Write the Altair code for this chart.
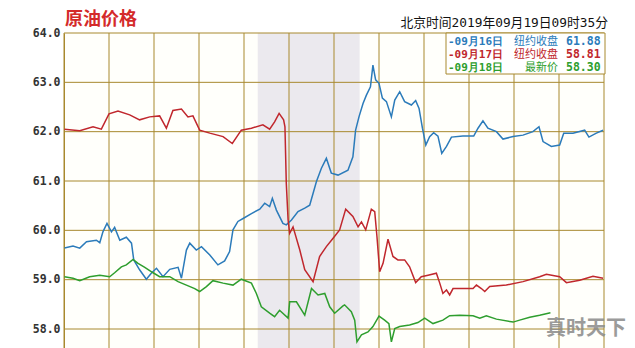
import altair as alt
import pandas as pd

# ---- data (x in hours across the 24h window) ----
red_h = [0.02, 0.70, 1.29, 1.66, 2.00, 2.40, 2.92, 3.36, 3.81, 4.25, 4.55, 4.84, 5.22, 5.51, 5.73,
         6.03, 6.48, 7.07, 7.48, 7.88, 8.33, 8.84, 9.14, 9.36, 9.56, 9.76, 9.82, 9.88, 9.96, 10.03,
         10.18, 10.48, 10.70, 11.07, 11.36, 11.66, 11.96, 12.25, 12.52, 12.84, 13.07, 13.22, 13.41,
         13.66, 13.81, 13.91, 14.03, 14.18, 14.40, 14.62, 14.84, 15.14, 15.36, 15.63, 15.88, 16.18,
         16.55, 16.70, 16.84, 17.00, 17.14, 17.29, 17.73, 18.18, 18.33, 18.55, 18.70, 18.92, 19.66,
         20.40, 21.14, 21.44, 22.03, 22.33, 22.92, 23.51, 23.96]
red_p = [62.05, 62.02, 62.10, 62.05, 62.36, 62.42, 62.34, 62.24, 62.30, 62.32, 62.07, 62.43, 62.46, 62.30, 62.32,
         62.03, 61.97, 61.90, 61.76, 62.03, 62.07, 62.14, 62.05, 62.20, 62.37, 62.24, 62.10, 60.95, 60.21, 59.94,
         60.07, 59.60, 59.20, 58.96, 59.47, 59.67, 59.84, 60.01, 60.43, 60.28, 60.07, 60.17, 60.01,
         60.43, 60.38, 59.87, 59.16, 59.33, 59.82, 59.47, 59.40, 59.40, 59.26, 58.94, 59.06, 59.09,
         59.13, 58.93, 58.72, 58.79, 58.69, 58.82, 58.82, 58.82, 58.89, 58.82, 58.76, 58.86, 58.89,
         58.96, 59.06, 59.11, 59.06, 58.94, 58.99, 59.07, 59.03]

blue_h = [0.02, 0.40, 0.70, 1.00, 1.44, 1.59, 1.73, 1.91, 2.11, 2.25, 2.48, 2.77, 3.00, 3.10, 3.36, 3.66,
          3.88, 4.11, 4.40, 4.70, 5.07, 5.22, 5.44, 5.59, 5.88, 6.11, 6.48, 6.84, 7.14, 7.36, 7.51, 7.73,
          7.96, 8.33, 8.70, 8.92, 9.14, 9.26, 9.44, 9.73, 9.88, 10.11, 10.40, 10.70, 10.92, 11.22, 11.44,
          11.66, 11.88, 12.18, 12.62, 12.84, 12.96, 13.11, 13.29, 13.44, 13.62, 13.73, 13.85, 14.00, 14.15,
          14.33, 14.55, 14.70, 14.92, 15.14, 15.44, 15.63, 15.78, 15.93, 16.08, 16.25, 16.43, 16.62, 16.79,
          17.00, 17.22, 17.73, 18.21, 18.40, 18.62, 18.84, 19.22, 19.51, 19.96, 20.40, 20.84, 21.11, 21.29,
          21.66, 22.03, 22.21, 22.62, 23.14, 23.33, 23.66, 23.96]
blue_p = [59.64, 59.68, 59.64, 59.77, 59.80, 59.75, 59.97, 60.14, 59.97, 60.06, 59.80, 59.86, 59.74, 59.40, 59.20, 59.01,
          59.13, 59.23, 59.06, 59.21, 59.25, 59.03, 59.60, 59.74, 59.60, 59.67, 59.50, 59.30, 59.38, 59.57, 60.01, 60.18,
          60.24, 60.34, 60.43, 60.55, 60.48, 60.65, 60.41, 60.14, 60.11, 60.21, 60.38, 60.45, 60.51, 60.99, 61.26,
          61.46, 61.16, 61.12, 61.22, 61.49, 62.03, 62.30, 62.57, 62.74, 62.91, 63.35, 63.05, 62.98, 62.68,
          62.61, 62.30, 62.64, 62.81, 62.61, 62.54, 62.63, 62.47, 62.07, 61.73, 61.90, 61.98, 61.91, 61.56,
          61.70, 61.89, 61.91, 61.91, 62.07, 62.22, 62.07, 62.00, 61.85, 61.90, 61.93, 62.00, 62.10, 61.80,
          61.70, 61.73, 61.97, 61.97, 62.03, 61.89, 61.97, 62.03]

green_h = [0.02, 0.40, 0.70, 1.14, 1.59, 2.03, 2.25, 2.55, 2.77, 3.07, 3.29, 3.59, 3.96, 4.25, 4.70, 5.07,
           5.44, 5.81, 6.03, 6.33, 6.62, 7.07, 7.51, 7.88, 8.33, 8.55, 8.77, 9.14, 9.36, 9.58, 9.96, 10.03,
           10.33, 10.70, 11.00, 11.29, 11.59, 11.81, 12.03, 12.40, 12.47, 12.77, 12.92, 13.02, 13.22, 13.51,
           13.73, 14.00, 14.25, 14.44, 14.55, 14.70, 14.92, 15.36, 15.73, 16.03, 16.40, 16.84, 17.14, 17.59,
           18.18, 18.48, 18.77, 19.22, 19.96, 20.25, 20.70, 21.14, 21.62]
green_p = [59.06, 59.03, 58.98, 59.06, 59.09, 59.06, 59.14, 59.26, 59.30, 59.41, 59.33, 59.25, 59.14, 59.06, 59.06, 58.96,
           58.89, 58.82, 58.76, 58.86, 58.98, 58.93, 58.89, 59.01, 58.93, 58.72, 58.45, 58.32, 58.25, 58.38, 58.22, 58.55,
           58.55, 58.28, 58.82, 58.69, 58.72, 58.45, 58.32, 58.47, 58.49, 58.35, 58.18, 57.74, 57.88, 57.94,
           58.05, 58.26, 58.18, 58.11, 57.74, 58.01, 58.05, 58.08, 58.13, 58.22, 58.11, 58.18, 58.27, 58.28,
           58.27, 58.22, 58.27, 58.20, 58.14, 58.18, 58.24, 58.28, 58.33]

series_names = ["09月16日", "09月17日", "09月18日"]
series_colors = ["#2b7bba", "#c0272d", "#2e9e2e"]
legend_labels = ["纽约收盘", "纽约收盘", "最新价"]
legend_values = ["61.88", "58.81", "58.30"]

shade_start, shade_end = 8.61, 13.14
grid_hours = list(range(0, 25, 2))
grid_prices = [58, 59, 60, 61, 62, 63, 64]

title_text = "原油价格"
time_text = "北京时间2019年09月19日09时35分"
watermark = "真时天下"

GOLD = "#a8892e"

rows = []
for name, hs, ps in zip(series_names, [blue_h, red_h, green_h], [blue_p, red_p, green_p]):
    for h, p in zip(hs, ps):
        rows.append({"series": name, "h": h, "price": p})
df = pd.DataFrame(rows)

xs = alt.Scale(domain=[0, 24], nice=False, zero=False)
ys = alt.Scale(domain=[57.615, 64], nice=False, zero=False)
y_axis = alt.Axis(
    values=grid_prices, format=".1f", title=None, ticks=False, grid=False,
    domainColor=GOLD, labelFont="DejaVu Sans Mono", labelFontSize=11.5,
    labelFontWeight="bold", labelColor="#333333", labelPadding=4,
)

shade = alt.Chart(pd.DataFrame({"h": [shade_start], "e": [shade_end]})).mark_rect(
    color="#ebe9ee"
).encode(
    x=alt.X("h:Q", scale=xs, axis=None),
    x2="e:Q",
    y=alt.value(0),
    y2=alt.value(315),
)

vgrid = alt.Chart(pd.DataFrame({"h": grid_hours})).mark_rule(color=GOLD, strokeWidth=1).encode(
    x=alt.X("h:Q", scale=xs, axis=None)
)
hgrid = alt.Chart(pd.DataFrame({"price": grid_prices})).mark_rule(color=GOLD, strokeWidth=1).encode(
    y=alt.Y("price:Q", scale=ys, axis=y_axis)
)

lines = alt.Chart(df).mark_line(strokeWidth=1.5, clip=True).encode(
    x=alt.X("h:Q", scale=xs, axis=None),
    y=alt.Y("price:Q", scale=ys, axis=y_axis),
    color=alt.Color("series:N", scale=alt.Scale(domain=series_names, range=series_colors), legend=None),
    order="h:Q",
)

legend_box = alt.Chart(pd.DataFrame({"a": [0]})).mark_rect(
    fill="white", stroke=GOLD, strokeWidth=1
).encode(x=alt.value(382), x2=alt.value(541), y=alt.value(0), y2=alt.value(41))

legend_layers = []
for i, (name, color, lab, val) in enumerate(zip(series_names, series_colors, legend_labels, legend_values)):
    yv = 8.5 + 13 * i
    d = pd.DataFrame({"date": ["-" + name], "label": [lab], "value": [val]})
    base = alt.Chart(d)
    legend_layers.append(base.mark_text(
        align="left", baseline="middle", font="DejaVu Sans Mono", fontSize=11, fontWeight="bold", color=color
    ).encode(x=alt.value(384), y=alt.value(yv), text="date:N"))
    legend_layers.append(base.mark_text(
        align="right", baseline="middle", font="Noto Sans CJK SC", fontSize=11, color=color
    ).encode(x=alt.value(494), y=alt.value(yv), text="label:N"))
    legend_layers.append(base.mark_text(
        align="left", baseline="middle", font="DejaVu Sans Mono", fontSize=11.5, fontWeight="bold", color=color
    ).encode(x=alt.value(502), y=alt.value(yv), text="value:N"))

title = alt.Chart(pd.DataFrame({"t": [title_text]})).mark_text(
    align="left", baseline="alphabetic", font="Noto Sans CJK SC", fontSize=18, fontWeight="bold",
    color="#d42a2a"
).encode(x=alt.value(1), y=alt.value(-8), text="t:N")

timestamp = alt.Chart(pd.DataFrame({"t": [time_text]})).mark_text(
    align="right", baseline="middle", font="DejaVu Sans Mono, Noto Sans CJK SC", fontSize=12.8,
    color="#111111"
).encode(x=alt.value(544), y=alt.value(-10), text="t:N")

mark_wm = alt.Chart(pd.DataFrame({"t": [watermark]})).mark_text(
    align="left", baseline="middle", font="Noto Sans CJK SC", fontSize=20, fontWeight="bold",
    color="#8a8a8a", opacity=0.85
).encode(x=alt.value(482), y=alt.value(296), text="t:N")

chart = alt.layer(
    shade, vgrid, hgrid, lines, legend_box, *legend_layers, title, timestamp, mark_wm
).properties(
    width=540, height=315,
    autosize=alt.AutoSizeParams(type="none"),
    padding={"left": 64, "top": 33, "right": 31, "bottom": 0},
    background="white",
).configure_view(stroke=None, fill="#fffffb")

chart.save("out.html", embed_options={"renderer": "svg", "actions": False})
